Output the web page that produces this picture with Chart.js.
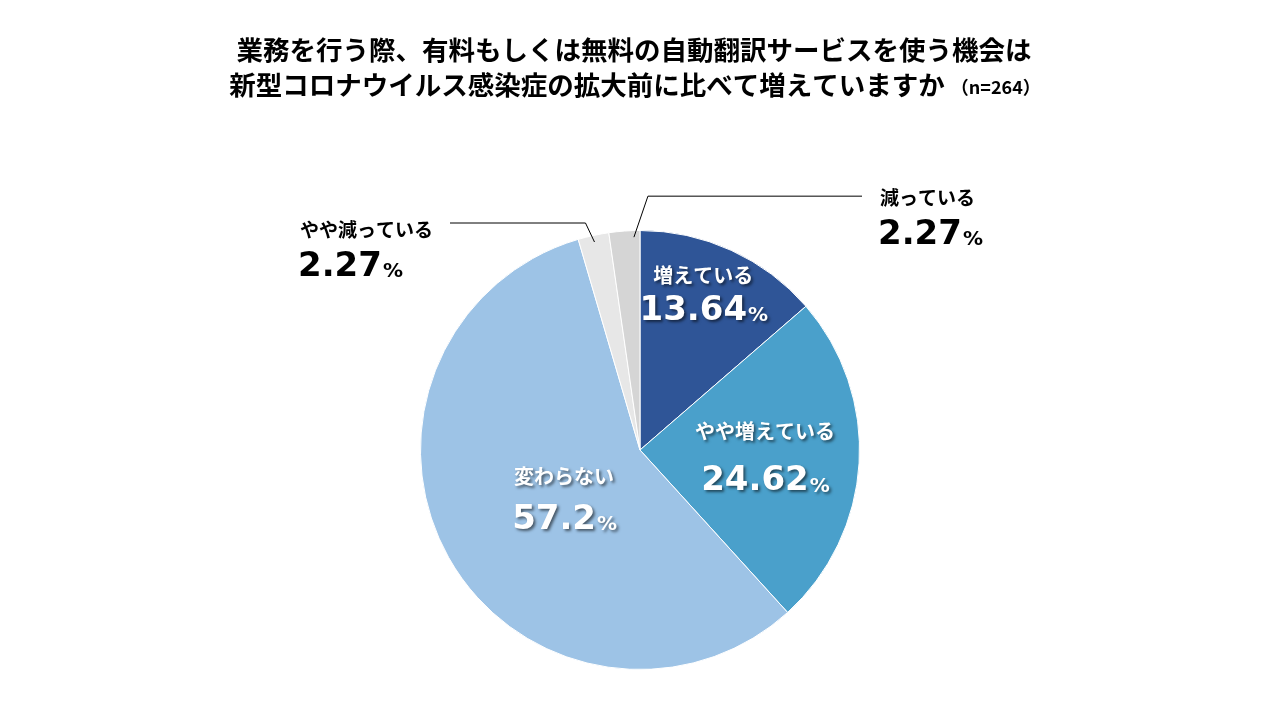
<!DOCTYPE html>
<html>
<head>
<meta charset="UTF-8">
<title>自動翻訳サービスの利用機会</title>
<script src="https://cdn.jsdelivr.net/npm/chart.js"></script>
<style>
  html, body { margin: 0; padding: 0; background: #ffffff; }
  #wrap { width: 1280px; height: 720px; }
</style>
</head>
<body>
<div id="wrap"><canvas id="pie" width="1280" height="720"></canvas></div>
<script>
  const categories = ["増えている", "やや増えている", "変わらない", "やや減っている", "減っている"];
  const values = [13.64, 24.62, 57.2, 2.27, 2.27];
  const valueLabels = ["13.64", "24.62", "57.2", "2.27", "2.27"];
  const sliceColors = ["#2F5597", "#4AA0CB", "#9DC3E6", "#E7E7E7", "#D5D5D5"];

  const titleLines = ["業務を行う際、有料もしくは無料の自動翻訳サービスを使う機会は",
                      "新型コロナウイルス感染症の拡大前に比べて増えていますか"];
  const sampleNote = "（n=264）";

  const JP = '"Noto Sans CJK JP", "Noto Sans", sans-serif';
  const NUM = '"DejaVu Sans", Verdana, sans-serif';

  // label placement per slice: inside (angle in deg, radius fraction) or outside with leader line
  const labelStyle = [
    { inside: true, angle: -68, r: 0.77, textDy: -18, valueDy: 18 },
    { inside: true, angle: 3, r: 0.57, textDy: -25, valueDy: 25 },
    { inside: true, angle: 147.5, r: 0.41, textDy: -22, valueDy: 22 },
    { inside: false, along: 0.49, elbow: [-9, -19], end: 450, textX: 300, textY: 230 },
    { inside: false, along: 0.8, elbow: [14, -41], end: 862, textX: 880, textY: 198 }
  ];

  function drawValue(ctx, x, y, num, size, color, align) {
    ctx.font = "bold " + size + "px " + NUM;
    const w1 = ctx.measureText(num).width;
    ctx.font = "bold " + Math.round(size * 0.6) + "px " + NUM;
    const w2 = ctx.measureText("%").width;
    let start = x;
    if (align === "center") start = x - (w1 + w2) / 2;
    ctx.textAlign = "left";
    ctx.textBaseline = "middle";
    ctx.fillStyle = color;
    ctx.font = "bold " + size + "px " + NUM;
    ctx.fillText(num, start, y);
    ctx.font = "bold " + Math.round(size * 0.6) + "px " + NUM;
    ctx.fillText("%", start + w1 + 1, y + size * 0.14);
  }

  const labelPlugin = {
    id: "sliceLabels",
    afterDraw(chart) {
      const ctx = chart.ctx;
      const arcs = chart.getDatasetMeta(0).data;

      // title
      ctx.save();
      ctx.fillStyle = "#000";
      ctx.textBaseline = "middle";
      ctx.textAlign = "center";
      ctx.font = "bold 26.5px " + JP;
      ctx.fillText(titleLines[0], 634, 50);
      const w = ctx.measureText(titleLines[1]).width;
      ctx.font = "bold 18px " + JP;
      const wn = ctx.measureText(sampleNote).width;
      const left = 635 - (w + wn + 6) / 2;
      ctx.textAlign = "left";
      ctx.font = "bold 26.5px " + JP;
      ctx.fillText(titleLines[1], left, 85);
      ctx.font = "bold 18px " + JP;
      ctx.fillText(sampleNote, left + w + 6, 87);
      ctx.restore();

      arcs.forEach((arc, i) => {
        const st = labelStyle[i];
        const cx = arc.x, cy = arc.y, R = arc.outerRadius;
        ctx.save();
        if (st.inside) {
          const a = st.angle * Math.PI / 180;
          const x = cx + Math.cos(a) * R * st.r;
          const y = cy + Math.sin(a) * R * st.r;
          ctx.shadowColor = "rgba(0,0,0,0.55)";
          ctx.shadowOffsetX = 2;
          ctx.shadowOffsetY = 2;
          ctx.shadowBlur = 3;
          ctx.fillStyle = "#fff";
          ctx.textAlign = "center";
          ctx.textBaseline = "middle";
          ctx.font = "bold 20px " + JP;
          ctx.fillText(categories[i], x, y + st.textDy);
          drawValue(ctx, x, y + st.valueDy, valueLabels[i], 34, "#fff", "center");
        } else {
          const ang = arc.startAngle + (arc.endAngle - arc.startAngle) * st.along;
          const ax = cx + Math.cos(ang) * R * 0.97;
          const ay = cy + Math.sin(ang) * R * 0.97;
          const ex = ax + st.elbow[0], ey = ay + st.elbow[1];
          ctx.strokeStyle = "#000";
          ctx.lineWidth = 1;
          ctx.beginPath();
          ctx.moveTo(ax, ay);
          ctx.lineTo(ex, ey);
          ctx.lineTo(st.end, ey);
          ctx.stroke();
          ctx.fillStyle = "#000";
          ctx.textAlign = "left";
          ctx.textBaseline = "middle";
          ctx.font = "bold 19px " + JP;
          ctx.fillText(categories[i], st.textX, st.textY);
          drawValue(ctx, st.textX - 2, st.textY + 37, valueLabels[i], 34, "#000", "left");
        }
        ctx.restore();
      });
    }
  };

  new Chart(document.getElementById("pie").getContext("2d"), {
    type: "pie",
    data: {
      labels: categories,
      datasets: [{
        data: values,
        backgroundColor: sliceColors,
        borderColor: "#ffffff",
        borderWidth: 1
      }]
    },
    options: {
      responsive: false,
      animation: false,
      devicePixelRatio: 1,
      layout: { padding: { top: 230, bottom: 50, left: 0, right: 0 } },
      plugins: {
        legend: { display: false },
        tooltip: { enabled: false },
        title: { display: false }
      }
    },
    plugins: [labelPlugin]
  });
</script>
</body>
</html>
